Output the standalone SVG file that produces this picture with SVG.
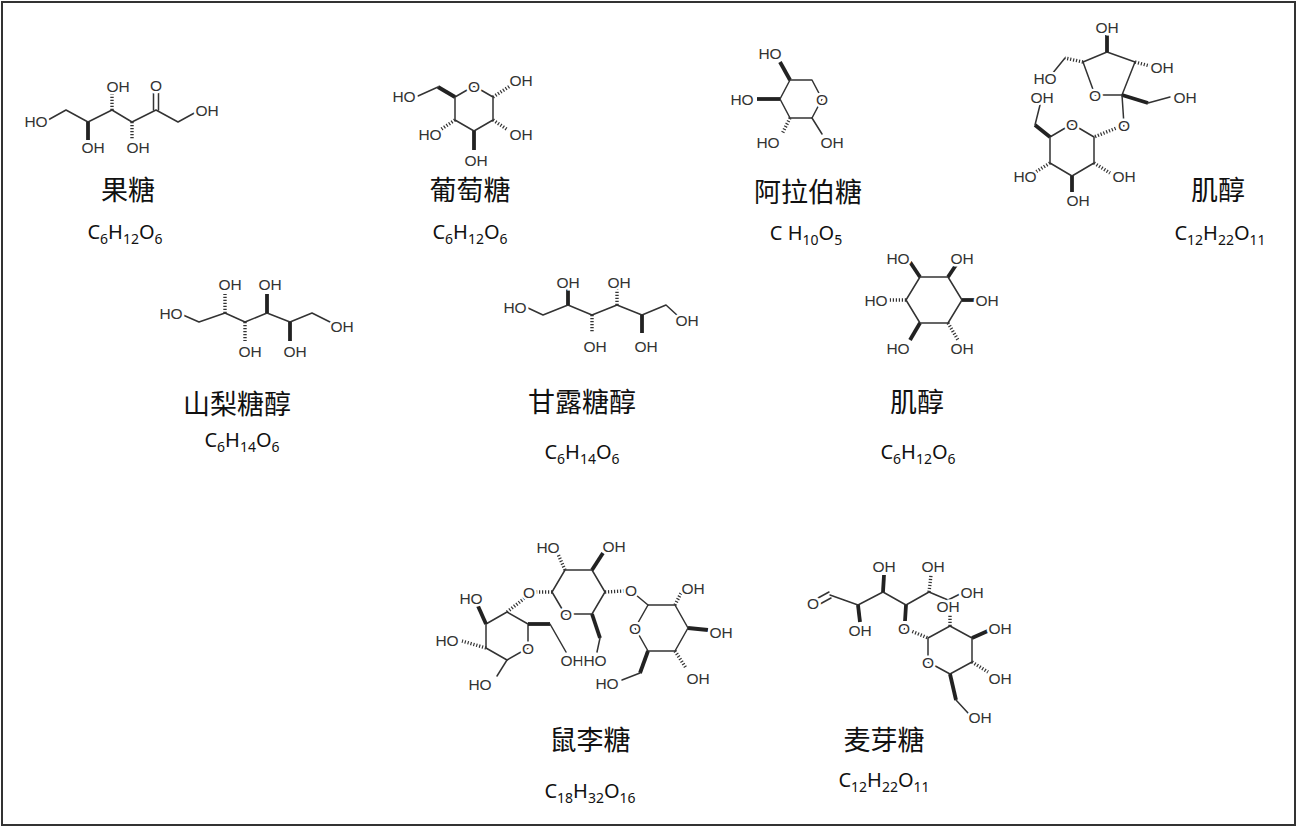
<svg xmlns="http://www.w3.org/2000/svg" width="1297" height="828" viewBox="0 0 1297 828">
<style>
.b{stroke:#333;stroke-width:1.5;fill:none;stroke-linecap:round;stroke-linejoin:round}
.w{stroke:#222;stroke-width:3.8;fill:none}
.h{stroke:#333;stroke-width:3.4;fill:none;stroke-dasharray:1.2 1.8}
.a{font-family:"Liberation Sans",Arial,sans-serif;font-size:15.5px;fill:#333;text-anchor:middle;dominant-baseline:central;stroke:#fff;stroke-width:5;paint-order:stroke fill}
.n{font-family:"Noto Sans CJK SC","Noto Sans",sans-serif;font-size:27px;fill:#111;text-anchor:middle}
.f{font-family:"Noto Sans","Liberation Sans",sans-serif;font-size:20px;fill:#111;text-anchor:middle}
.s{font-size:14px}
</style>
<rect x="2" y="2" width="1293" height="823" fill="#fff" stroke="#333" stroke-width="2"/>
<g id="connectors">
<polyline class="b" points="48,120 66,110 88,122 112,110 132,122 156,110 178,122 198,111"/>
<line class="w" x1="88" y1="122" x2="88" y2="140"/><line class="h" x1="112" y1="110" x2="112" y2="93"/><line class="h" x1="132" y1="122" x2="132" y2="140"/>
<line class="b" x1="153.5" y1="110" x2="153.5" y2="92"/><line class="b" x1="158.5" y1="110" x2="158.5" y2="92"/>
<path class="b" d="M455,97 L474,86 L493,97 L493,120 L474,131 L455,120 Z"/>
<line class="w" x1="455" y1="97" x2="438" y2="87"/><line class="b" x1="438" y1="87" x2="418" y2="96"/>
<line class="h" x1="493" y1="97" x2="510" y2="86"/><line class="h" x1="455" y1="120" x2="440" y2="130"/><line class="h" x1="493" y1="120" x2="508" y2="130"/><line class="w" x1="474" y1="131" x2="474" y2="150"/>
<path class="b" d="M780,99 L790,80 L812,80 L822,99 L812,118 L790,118 Z"/>
<line class="w" x1="790" y1="80" x2="780" y2="62"/><line class="w" x1="780" y1="99" x2="757" y2="99"/><line class="h" x1="790" y1="118" x2="782" y2="134"/><line class="b" x1="812" y1="118" x2="822" y2="134"/>
<path class="b" d="M1083,62 L1107,52 L1135,62 L1122,95 L1095,95 Z"/>
<line class="w" x1="1107" y1="52" x2="1107" y2="35"/><line class="h" x1="1135" y1="62" x2="1150" y2="66"/><line class="h" x1="1083" y1="62" x2="1065" y2="58"/><line class="b" x1="1065" y1="58" x2="1052" y2="74"/>
<line class="w" x1="1122" y1="95" x2="1148" y2="103"/><line class="b" x1="1148" y1="103" x2="1170" y2="97"/><line class="b" x1="1122" y1="95" x2="1124" y2="125"/><line class="h" x1="1124" y1="125" x2="1094" y2="137"/>
<path class="b" d="M1050,137 L1072,124 L1094,137 L1094,163 L1072,176 L1050,163 Z"/>
<line class="w" x1="1050" y1="137" x2="1035" y2="125"/><line class="b" x1="1035" y1="125" x2="1040" y2="105"/><line class="h" x1="1050" y1="163" x2="1034" y2="173"/><line class="h" x1="1094" y1="163" x2="1110" y2="173"/><line class="w" x1="1072" y1="176" x2="1072" y2="192"/>
<polyline class="b" points="183,315 199,322 225,313 245,322 267,313 290,322 312,313 330,322"/>
<line class="h" x1="225" y1="313" x2="225" y2="294"/><line class="h" x1="245" y1="322" x2="245" y2="341"/><line class="w" x1="267" y1="313" x2="267" y2="294"/><line class="w" x1="290" y1="322" x2="290" y2="341"/>
<polyline class="b" points="528,308 543,315 568,305 592,315 617,305 642,315 666,305 678,316"/>
<line class="w" x1="568" y1="305" x2="568" y2="289"/><line class="h" x1="592" y1="315" x2="592" y2="333"/><line class="h" x1="617" y1="305" x2="617" y2="289"/><line class="w" x1="642" y1="315" x2="642" y2="333"/>
<path class="b" d="M920,277 L948,277 L962,300 L948,323 L920,323 L906,300 Z"/>
<line class="w" x1="920" y1="277" x2="910" y2="262"/><line class="w" x1="948" y1="277" x2="958" y2="262"/><line class="h" x1="906" y1="300" x2="888" y2="300"/><line class="w" x1="962" y1="300" x2="978" y2="300"/><line class="w" x1="920" y1="323" x2="910" y2="340"/><line class="h" x1="948" y1="323" x2="958" y2="340"/>
<path class="b" d="M507,612 L528,624 L528,648 L507,660 L486,648 L486,624 Z"/>
<line class="h" x1="507" y1="612" x2="526" y2="597"/><line class="h" x1="533" y1="592" x2="552" y2="592"/>
<line class="w" x1="528" y1="624" x2="550" y2="624"/><line class="b" x1="550" y1="624" x2="566" y2="652"/>
<line class="b" x1="507" y1="660" x2="497" y2="676"/><line class="h" x1="486" y1="648" x2="462" y2="641"/><line class="w" x1="486" y1="624" x2="478" y2="606"/>
<path class="b" d="M552,592 L565,570 L592,570 L605,592 L592,614 L565,614 Z"/>
<line class="h" x1="565" y1="570" x2="558" y2="554"/><line class="w" x1="592" y1="570" x2="603" y2="553"/><line class="h" x1="605" y1="592" x2="624" y2="591"/><line class="b" x1="636" y1="595" x2="648" y2="605"/>
<line class="w" x1="592" y1="614" x2="600" y2="638"/><line class="b" x1="600" y1="638" x2="597" y2="652"/>
<path class="b" d="M648,605 L675,605 L688,628 L675,651 L648,651 L635,628 Z"/>
<line class="h" x1="675" y1="605" x2="682" y2="591"/><line class="w" x1="688" y1="628" x2="708" y2="630"/><line class="h" x1="675" y1="651" x2="686" y2="668"/><line class="w" x1="648" y1="651" x2="640" y2="673"/><line class="b" x1="640" y1="673" x2="622" y2="680"/>
<line class="b" x1="818" y1="598" x2="829" y2="592"/><line class="b" x1="820" y1="604" x2="831" y2="598"/>
<polyline class="b" points="830,595 858,605 883,592 906,605 929,592 948,600 962,593"/>
<line class="w" x1="858" y1="605" x2="860" y2="622"/><line class="w" x1="883" y1="592" x2="884" y2="575"/><line class="w" x1="906" y1="605" x2="905" y2="621"/><line class="h" x1="929" y1="592" x2="931" y2="575"/><line class="h" x1="904" y1="628" x2="928" y2="638"/>
<path class="b" d="M928,638 L950,626 L972,638 L972,662 L950,674 L928,662 Z"/>
<line class="h" x1="950" y1="626" x2="950" y2="612"/><line class="w" x1="972" y1="638" x2="990" y2="630"/><line class="h" x1="972" y1="662" x2="988" y2="672"/><line class="w" x1="950" y1="674" x2="956" y2="700"/><line class="b" x1="956" y1="700" x2="968" y2="713"/>
</g>
<g id="fructose">
<text class="a" x="36" y="121">HO</text><text class="a" x="93" y="147">OH</text><text class="a" x="118" y="86">OH</text><text class="a" x="138" y="147">OH</text><text class="a" x="156" y="85">O</text><text class="a" x="207" y="110">OH</text>
<text class="n" x="128" y="200">果糖</text>
<text class="f" x="125" y="239">C<tspan class="s" dy="5">6</tspan><tspan dy="-5">H</tspan><tspan class="s" dy="5">12</tspan><tspan dy="-5">O</tspan><tspan class="s" dy="5">6</tspan></text>
</g>
<g id="glucose">
<text class="a" x="474" y="86">O</text><text class="a" x="404" y="96">HO</text><text class="a" x="521" y="80">OH</text><text class="a" x="430" y="134">HO</text><text class="a" x="521" y="134">OH</text><text class="a" x="476" y="160">OH</text>
<text class="n" x="470" y="200">葡萄糖</text>
<text class="f" x="470" y="239">C<tspan class="s" dy="5">6</tspan><tspan dy="-5">H</tspan><tspan class="s" dy="5">12</tspan><tspan dy="-5">O</tspan><tspan class="s" dy="5">6</tspan></text>
</g>
<g id="arabinose">
<text class="a" x="822" y="99">O</text><text class="a" x="770" y="53">HO</text><text class="a" x="742" y="99">HO</text><text class="a" x="768" y="142">HO</text><text class="a" x="832" y="142">OH</text>
<text class="n" x="808" y="202">阿拉伯糖</text>
<text class="f" x="806" y="240">C H<tspan class="s" dy="5">10</tspan><tspan dy="-5">O</tspan><tspan class="s" dy="5">5</tspan></text>
</g>
<g id="sucrose">
<text class="a" x="1095" y="95">O</text><text class="a" x="1107" y="27">OH</text><text class="a" x="1162" y="67">OH</text><text class="a" x="1045" y="78">HO</text><text class="a" x="1185" y="97">OH</text><text class="a" x="1124" y="125">O</text>
<text class="a" x="1072" y="124">O</text><text class="a" x="1042" y="97">OH</text><text class="a" x="1025" y="176">HO</text><text class="a" x="1124" y="176">OH</text><text class="a" x="1078" y="200">OH</text>
<text class="n" x="1218" y="200">肌醇</text>
<text class="f" x="1220" y="240">C<tspan class="s" dy="5">12</tspan><tspan dy="-5">H</tspan><tspan class="s" dy="5">22</tspan><tspan dy="-5">O</tspan><tspan class="s" dy="5">11</tspan></text>
</g>
<g id="sorbitol">
<text class="a" x="171" y="313">HO</text><text class="a" x="230" y="284">OH</text><text class="a" x="270" y="284">OH</text><text class="a" x="342" y="326">OH</text><text class="a" x="250" y="351">OH</text><text class="a" x="295" y="351">OH</text>
<text class="n" x="237" y="414">山梨糖醇</text>
<text class="f" x="242" y="447">C<tspan class="s" dy="5">6</tspan><tspan dy="-5">H</tspan><tspan class="s" dy="5">14</tspan><tspan dy="-5">O</tspan><tspan class="s" dy="5">6</tspan></text>
</g>
<g id="mannitol">
<text class="a" x="515" y="307">HO</text><text class="a" x="568" y="282">OH</text><text class="a" x="619" y="282">OH</text><text class="a" x="687" y="320">OH</text><text class="a" x="595" y="346">OH</text><text class="a" x="646" y="346">OH</text>
<text class="n" x="582" y="412">甘露糖醇</text>
<text class="f" x="582" y="459">C<tspan class="s" dy="5">6</tspan><tspan dy="-5">H</tspan><tspan class="s" dy="5">14</tspan><tspan dy="-5">O</tspan><tspan class="s" dy="5">6</tspan></text>
</g>
<g id="inositol">
<text class="a" x="898" y="258">HO</text><text class="a" x="962" y="258">OH</text><text class="a" x="876" y="300">HO</text><text class="a" x="987" y="300">OH</text><text class="a" x="898" y="348">HO</text><text class="a" x="962" y="348">OH</text>
<text class="n" x="917" y="412">肌醇</text>
<text class="f" x="918" y="459">C<tspan class="s" dy="5">6</tspan><tspan dy="-5">H</tspan><tspan class="s" dy="5">12</tspan><tspan dy="-5">O</tspan><tspan class="s" dy="5">6</tspan></text>
</g>
<g id="raffinose">
<text class="a" x="528" y="648">O</text><text class="a" x="529" y="592">O</text><text class="a" x="471" y="598">HO</text><text class="a" x="447" y="640">HO</text><text class="a" x="480" y="684">HO</text><text class="a" x="572" y="660">OH</text>
<text class="a" x="566" y="614">O</text><text class="a" x="548" y="547">HO</text><text class="a" x="614" y="546">OH</text><text class="a" x="631" y="590">O</text><text class="a" x="595" y="660">HO</text>
<text class="a" x="635" y="628">O</text><text class="a" x="693" y="588">OH</text><text class="a" x="721" y="632">OH</text><text class="a" x="698" y="678">OH</text><text class="a" x="607" y="683">HO</text>
<text class="n" x="590" y="750">鼠李糖</text>
<text class="f" x="590" y="798">C<tspan class="s" dy="5">18</tspan><tspan dy="-5">H</tspan><tspan class="s" dy="5">32</tspan><tspan dy="-5">O</tspan><tspan class="s" dy="5">16</tspan></text>
</g>
<g id="maltose">
<text class="a" x="813" y="603">O</text><text class="a" x="860" y="630">OH</text><text class="a" x="884" y="566">OH</text><text class="a" x="904" y="628">O</text><text class="a" x="933" y="566">OH</text><text class="a" x="972" y="592">OH</text>
<text class="a" x="928" y="662">O</text><text class="a" x="948" y="606">OH</text><text class="a" x="1000" y="628">OH</text><text class="a" x="1000" y="678">OH</text><text class="a" x="980" y="717">OH</text>
<text class="n" x="884" y="750">麦芽糖</text>
<text class="f" x="884" y="787">C<tspan class="s" dy="5">12</tspan><tspan dy="-5">H</tspan><tspan class="s" dy="5">22</tspan><tspan dy="-5">O</tspan><tspan class="s" dy="5">11</tspan></text>
</g>
</svg>
